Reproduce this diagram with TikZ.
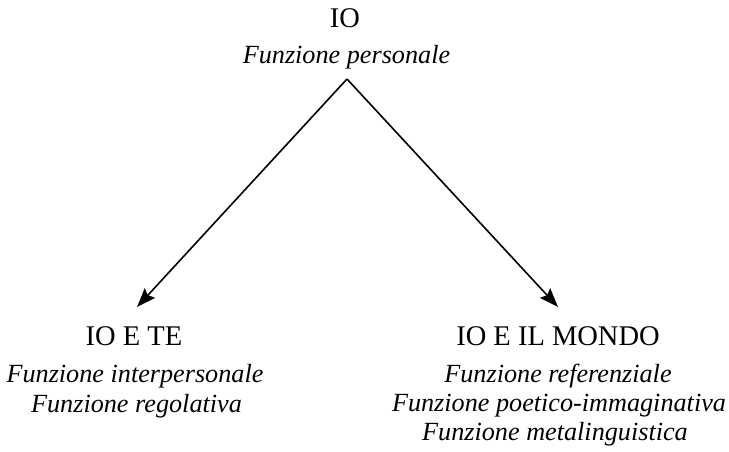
\documentclass[tikz,border=0pt]{standalone}
\usepackage{fontspec}
\setmainfont{Liberation Serif}
\usetikzlibrary{arrows.meta}
\begin{document}
\begin{tikzpicture}[x=1pt,y=-1pt,
  head/.style={font=\fontsize{28.5}{30}\selectfont, inner sep=0pt, anchor=base},
  role/.style={font=\fontsize{26.2}{29}\selectfont\itshape, inner sep=0pt, anchor=base},
  link/.style={line width=1.6pt, -{Stealth[length=19pt,width=14pt,inset=3pt]}}]
  \useasboundingbox (0,0) rectangle (729,451);

  % top: the self
  \node[head] (io) at (345,27) {IO};
  \node[role] (fp) at (346.5,63) {Funzione personale};

  % left branch
  \node[head] (iote) at (134,345) {IO E TE};
  \node[role] (fi) at (135,382) {Funzione interpersonale};
  \node[role] (fr) at (136.5,412) {Funzione regolativa};

  % right branch
  \node[head] (iomondo) at (558,345) {IO E IL MONDO};
  \node[role] (fref) at (558,382) {Funzione referenziale};
  \node[role] (fpo) at (559,411) {Funzione poetico-immaginativa};
  \node[role] (fme) at (555,440) {Funzione metalinguistica};

  % connectors
  \coordinate (apex) at (347,79);
  \coordinate (tipL) at (137,307);
  \coordinate (tipR) at (558,307);
  \draw[link] (apex) -- (tipL);
  \draw[link] (apex) -- (tipR);
\end{tikzpicture}
\end{document}
